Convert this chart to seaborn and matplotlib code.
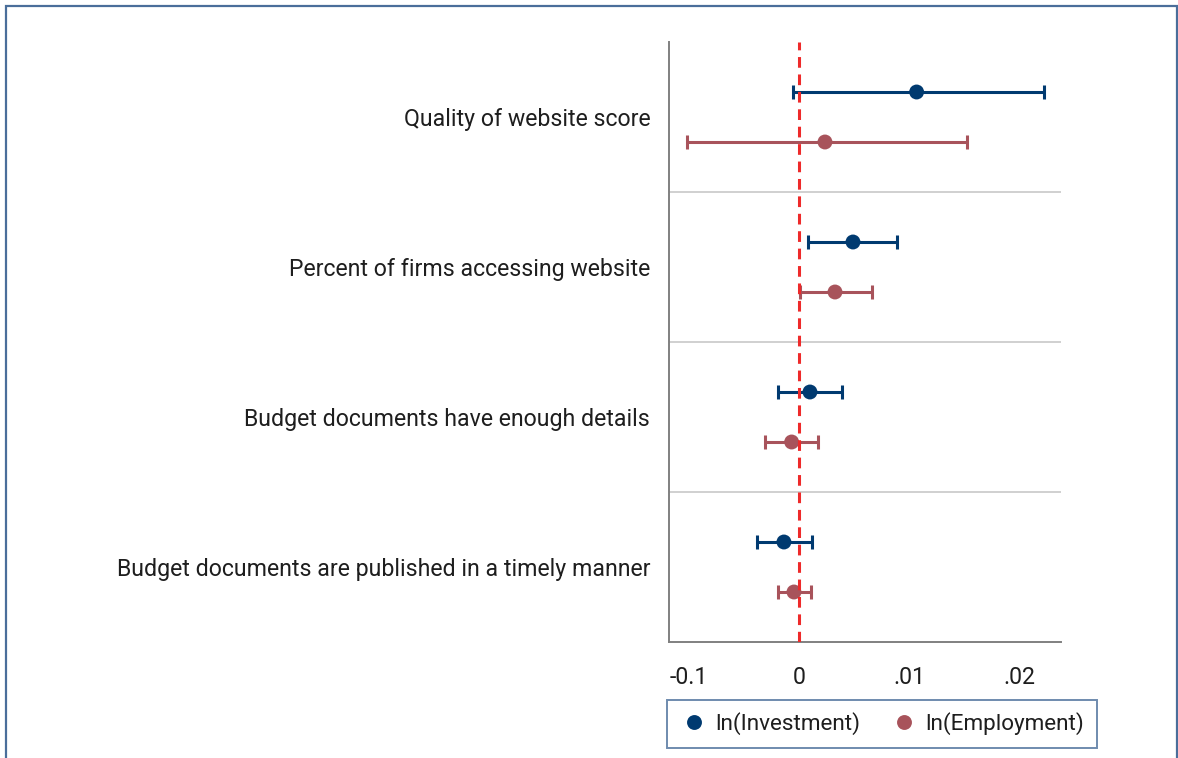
import matplotlib
matplotlib.use("Agg")
import matplotlib.pyplot as plt
from matplotlib.patches import Rectangle
import numpy as np
import pandas as pd
import seaborn as sns

# Coefficient estimates with 95% confidence intervals
categories = [
    "Quality of website score",
    "Percent of firms accessing website",
    "Budget documents have enough details",
    "Budget documents are published in a timely manner",
]
series = ["ln(Investment)", "ln(Employment)"]

inv_coef = [0.01064, 0.00487, 0.00097, -0.00139]
inv_lo = [-0.00060, 0.00077, -0.00193, -0.00386]
inv_hi = [0.02216, 0.00885, 0.00387, 0.00118]

emp_coef = [0.00233, 0.00324, -0.00069, -0.00048]
emp_lo = [-0.01015, 0.00006, -0.00311, -0.00190]
emp_hi = [0.01518, 0.00659, 0.00167, 0.00106]

xtick_values = [-0.01, 0.0, 0.01, 0.02]
xtick_labels = ["-0.1", "0", ".01", ".02"]

colors = {"ln(Investment)": "#003A70", "ln(Employment)": "#A8535B"}
offsets = {"ln(Investment)": -1 / 6, "ln(Employment)": 1 / 6}

rows = []
for i, cat in enumerate(categories):
    rows.append(dict(cat=cat, series=series[0], coef=inv_coef[i], lo=inv_lo[i], hi=inv_hi[i],
                     y=i + offsets[series[0]]))
    rows.append(dict(cat=cat, series=series[1], coef=emp_coef[i], lo=emp_lo[i], hi=emp_hi[i],
                     y=i + offsets[series[1]]))
df = pd.DataFrame(rows)

sns.set_theme(style="white")
plt.rcParams["font.family"] = ["Roboto", "DejaVu Sans"]

fig = plt.figure(figsize=(11.78, 7.58), dpi=100)
ax = fig.add_axes([669 / 1178, 1 - 642 / 758, (1061 - 669) / 1178, 600 / 758])

# confidence intervals
for s in series:
    d = df[df["series"] == s]
    ax.errorbar(d["coef"], d["y"], xerr=[d["coef"] - d["lo"], d["hi"] - d["coef"]],
                fmt="none", ecolor=colors[s], elinewidth=2.2, capsize=5, capthick=2.2, zorder=2)

sns.scatterplot(data=df, x="coef", y="y", hue="series", palette=colors, hue_order=series,
                s=115, edgecolor="none", linewidth=0, ax=ax, zorder=3)

# zero reference line
ax.axvline(0, color="#EE2A2A", lw=2.2, ls=(0, (3.5, 2.2)), zorder=4)

# group separators
for b in [0.5, 1.5, 2.5]:
    ax.axhline(b, color="#C4C4C4", lw=1.1, zorder=1)

ax.set_xlim(-0.01181, 0.02373)
ax.set_ylim(3.5, -0.5)
ax.set_yticks(range(len(categories)))
ax.set_yticklabels(categories)
ax.set_xticks(xtick_values)
ax.set_xticklabels(xtick_labels)
ax.set_xlabel("")
ax.set_ylabel("")

for side in ["top", "right"]:
    ax.spines[side].set_visible(False)
for side in ["left", "bottom"]:
    ax.spines[side].set_color("#808080")
    ax.spines[side].set_linewidth(1.4)

ax.tick_params(axis="both", which="major", direction="out", length=7.5, width=1.3,
               color="#808080", labelsize=16.7, labelcolor="#1E1E1E")
ax.tick_params(axis="y", pad=6)
ax.tick_params(axis="x", pad=10)

handles, labels = ax.get_legend_handles_labels()
leg = ax.legend(handles, labels, loc="upper left", bbox_to_anchor=(667 / 1178, 1 - 700 / 758),
                bbox_transform=fig.transFigure, ncol=2, frameon=True, fancybox=False,
                fontsize=16.2, handlelength=1.3, handletextpad=0.3, columnspacing=1.3,
                borderpad=0.55, borderaxespad=0, markerscale=1.0)
leg.get_frame().set_edgecolor("#4A6E9A")
leg.get_frame().set_linewidth(1.4)
for t in leg.get_texts():
    t.set_color("#1E1E1E")

# outer frame
fig.patches.append(Rectangle((6 / 1178, -0.05), (1177 - 6) / 1178, 1 - 6 / 758 + 0.05,
                             transform=fig.transFigure, fill=False, edgecolor="#4A6E9A",
                             linewidth=1.6, zorder=0))

fig.savefig("out.png", dpi=100)
